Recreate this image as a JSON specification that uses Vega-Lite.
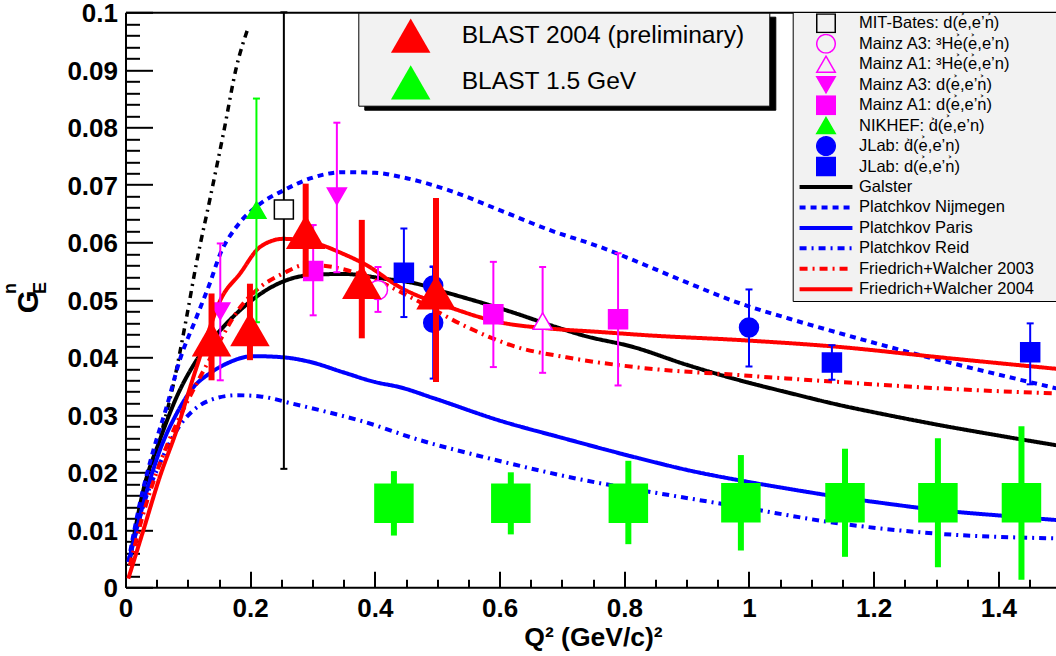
{
"$schema":"https://vega.github.io/schema/vega-lite/v6.json",
"width":930.5,"height":575,
"autosize":{"type":"none"},
"padding":{"left":125.5,"top":12.3,"right":0,"bottom":68.7},
"background":"white",
"config":{"view":{"stroke":null},"font":"Liberation Sans",
 "axis":{"grid":false,"domainColor":"black","tickColor":"black","labelColor":"black","titleColor":"black","labelFont":"Liberation Sans","titleFont":"Liberation Sans"},
 "legend":{"labelFont":"Liberation Sans","labelColor":"black","titleFont":"Liberation Sans"}},
"datasets":{
"curves":[
{"s":"Galster","q":0.0072,"g":0.005},{"s":"Galster","q":0.0286,"g":0.0169},{"s":"Galster","q":0.055,"g":0.0256},{"s":"Galster","q":0.082,"g":0.0331},{"s":"Galster","q":0.114,"g":0.0395},{"s":"Galster","q":0.152,"g":0.0447},{"s":"Galster","q":0.189,"g":0.0487},{"s":"Galster","q":0.226,"g":0.0517},{"s":"Galster","q":0.258,"g":0.0534},{"s":"Galster","q":0.296,"g":0.0543},{"s":"Galster","q":0.349,"g":0.0545},{"s":"Galster","q":0.413,"g":0.0537},{"s":"Galster","q":0.467,"g":0.0528},{"s":"Galster","q":0.52,"g":0.0511},{"s":"Galster","q":0.574,"g":0.0494},{"s":"Galster","q":0.627,"g":0.0476},{"s":"Galster","q":0.681,"g":0.0456},{"s":"Galster","q":0.734,"g":0.0438},{"s":"Galster","q":0.814,"g":0.0418},{"s":"Galster","q":0.9,"g":0.0387},{"s":"Galster","q":0.985,"g":0.036},{"s":"Galster","q":1.065,"g":0.0338},{"s":"Galster","q":1.145,"g":0.0317},{"s":"Galster","q":1.225,"g":0.0299},{"s":"Galster","q":1.306,"g":0.0282},{"s":"Galster","q":1.4,"g":0.0264},{"s":"Galster","q":1.493,"g":0.0247},
{"s":"Platchkov Nijmegen","q":0.0045,"g":0.0044},{"s":"Platchkov Nijmegen","q":0.023,"g":0.0146},{"s":"Platchkov Nijmegen","q":0.0446,"g":0.0238},{"s":"Platchkov Nijmegen","q":0.066,"g":0.0314},{"s":"Platchkov Nijmegen","q":0.087,"g":0.0395},{"s":"Platchkov Nijmegen","q":0.114,"g":0.047},{"s":"Platchkov Nijmegen","q":0.135,"g":0.0528},{"s":"Platchkov Nijmegen","q":0.152,"g":0.058},{"s":"Platchkov Nijmegen","q":0.178,"g":0.0627},{"s":"Platchkov Nijmegen","q":0.216,"g":0.0667},{"s":"Platchkov Nijmegen","q":0.253,"g":0.069},{"s":"Platchkov Nijmegen","q":0.296,"g":0.0711},{"s":"Platchkov Nijmegen","q":0.349,"g":0.0722},{"s":"Platchkov Nijmegen","q":0.4,"g":0.0721},{"s":"Platchkov Nijmegen","q":0.44,"g":0.0714},{"s":"Platchkov Nijmegen","q":0.52,"g":0.069},{"s":"Platchkov Nijmegen","q":0.6,"g":0.0656},{"s":"Platchkov Nijmegen","q":0.681,"g":0.0621},{"s":"Platchkov Nijmegen","q":0.761,"g":0.0592},{"s":"Platchkov Nijmegen","q":0.841,"g":0.0557},{"s":"Platchkov Nijmegen","q":0.905,"g":0.0528},{"s":"Platchkov Nijmegen","q":0.985,"g":0.0494},{"s":"Platchkov Nijmegen","q":1.065,"g":0.0467},{"s":"Platchkov Nijmegen","q":1.145,"g":0.0442},{"s":"Platchkov Nijmegen","q":1.225,"g":0.0418},{"s":"Platchkov Nijmegen","q":1.306,"g":0.0395},{"s":"Platchkov Nijmegen","q":1.4,"g":0.037},{"s":"Platchkov Nijmegen","q":1.493,"g":0.0346},
{"s":"Platchkov Paris","q":0.0072,"g":0.0053},{"s":"Platchkov Paris","q":0.0286,"g":0.0146},{"s":"Platchkov Paris","q":0.055,"g":0.0238},{"s":"Platchkov Paris","q":0.082,"g":0.0302},{"s":"Platchkov Paris","q":0.109,"g":0.0348},{"s":"Platchkov Paris","q":0.135,"g":0.0372},{"s":"Platchkov Paris","q":0.162,"g":0.0389},{"s":"Platchkov Paris","q":0.205,"g":0.0402},{"s":"Platchkov Paris","q":0.253,"g":0.04},{"s":"Platchkov Paris","q":0.296,"g":0.0392},{"s":"Platchkov Paris","q":0.349,"g":0.0374},{"s":"Platchkov Paris","q":0.4,"g":0.0357},{"s":"Platchkov Paris","q":0.44,"g":0.0348},{"s":"Platchkov Paris","q":0.494,"g":0.0329},{"s":"Platchkov Paris","q":0.6,"g":0.029},{"s":"Platchkov Paris","q":0.7,"g":0.026},{"s":"Platchkov Paris","q":0.825,"g":0.0224},{"s":"Platchkov Paris","q":0.905,"g":0.0203},{"s":"Platchkov Paris","q":0.985,"g":0.0186},{"s":"Platchkov Paris","q":1.065,"g":0.0171},{"s":"Platchkov Paris","q":1.145,"g":0.0157},{"s":"Platchkov Paris","q":1.225,"g":0.0145},{"s":"Platchkov Paris","q":1.306,"g":0.0134},{"s":"Platchkov Paris","q":1.4,"g":0.0125},{"s":"Platchkov Paris","q":1.493,"g":0.0117},
{"s":"Platchkov Reid","q":0.0072,"g":0.0053},{"s":"Platchkov Reid","q":0.028,"g":0.014},{"s":"Platchkov Reid","q":0.055,"g":0.0215},{"s":"Platchkov Reid","q":0.082,"g":0.0273},{"s":"Platchkov Reid","q":0.109,"g":0.0308},{"s":"Platchkov Reid","q":0.135,"g":0.0325},{"s":"Platchkov Reid","q":0.178,"g":0.0334},{"s":"Platchkov Reid","q":0.216,"g":0.0332},{"s":"Platchkov Reid","q":0.269,"g":0.0319},{"s":"Platchkov Reid","q":0.323,"g":0.0305},{"s":"Platchkov Reid","q":0.376,"g":0.029},{"s":"Platchkov Reid","q":0.472,"g":0.0256},{"s":"Platchkov Reid","q":0.584,"g":0.0224},{"s":"Platchkov Reid","q":0.766,"g":0.018},{"s":"Platchkov Reid","q":0.825,"g":0.0169},{"s":"Platchkov Reid","q":0.985,"g":0.014},{"s":"Platchkov Reid","q":1.145,"g":0.0111},{"s":"Platchkov Reid","q":1.306,"g":0.0093},{"s":"Platchkov Reid","q":1.493,"g":0.0085},
{"s":"Friedrich+Walcher 2003","q":0.007,"g":0.0038},{"s":"Friedrich+Walcher 2003","q":0.0286,"g":0.0128},{"s":"Friedrich+Walcher 2003","q":0.055,"g":0.0215},{"s":"Friedrich+Walcher 2003","q":0.082,"g":0.0285},{"s":"Friedrich+Walcher 2003","q":0.114,"g":0.0354},{"s":"Friedrich+Walcher 2003","q":0.146,"g":0.0418},{"s":"Friedrich+Walcher 2003","q":0.184,"g":0.0487},{"s":"Friedrich+Walcher 2003","q":0.216,"g":0.0522},{"s":"Friedrich+Walcher 2003","q":0.253,"g":0.0546},{"s":"Friedrich+Walcher 2003","q":0.29,"g":0.0561},{"s":"Friedrich+Walcher 2003","q":0.333,"g":0.0557},{"s":"Friedrich+Walcher 2003","q":0.38,"g":0.0543},{"s":"Friedrich+Walcher 2003","q":0.414,"g":0.0528},{"s":"Friedrich+Walcher 2003","q":0.467,"g":0.0499},{"s":"Friedrich+Walcher 2003","q":0.547,"g":0.0453},{"s":"Friedrich+Walcher 2003","q":0.627,"g":0.0418},{"s":"Friedrich+Walcher 2003","q":0.707,"g":0.04},{"s":"Friedrich+Walcher 2003","q":0.825,"g":0.0382},{"s":"Friedrich+Walcher 2003","q":0.985,"g":0.0369},{"s":"Friedrich+Walcher 2003","q":1.145,"g":0.0357},{"s":"Friedrich+Walcher 2003","q":1.306,"g":0.0346},{"s":"Friedrich+Walcher 2003","q":1.493,"g":0.0337},
{"s":"Friedrich+Walcher 2004","q":0.0045,"g":0.0015},{"s":"Friedrich+Walcher 2004","q":0.0286,"g":0.0099},{"s":"Friedrich+Walcher 2004","q":0.055,"g":0.0192},{"s":"Friedrich+Walcher 2004","q":0.082,"g":0.0273},{"s":"Friedrich+Walcher 2004","q":0.109,"g":0.0366},{"s":"Friedrich+Walcher 2004","q":0.13,"g":0.0435},{"s":"Friedrich+Walcher 2004","q":0.152,"g":0.0499},{"s":"Friedrich+Walcher 2004","q":0.184,"g":0.0546},{"s":"Friedrich+Walcher 2004","q":0.216,"g":0.0592},{"s":"Friedrich+Walcher 2004","q":0.253,"g":0.0606},{"s":"Friedrich+Walcher 2004","q":0.296,"g":0.0601},{"s":"Friedrich+Walcher 2004","q":0.349,"g":0.058},{"s":"Friedrich+Walcher 2004","q":0.387,"g":0.056},{"s":"Friedrich+Walcher 2004","q":0.44,"g":0.0522},{"s":"Friedrich+Walcher 2004","q":0.52,"g":0.0487},{"s":"Friedrich+Walcher 2004","q":0.6,"g":0.0461},{"s":"Friedrich+Walcher 2004","q":0.681,"g":0.045},{"s":"Friedrich+Walcher 2004","q":0.761,"g":0.0444},{"s":"Friedrich+Walcher 2004","q":0.841,"g":0.0438},{"s":"Friedrich+Walcher 2004","q":0.985,"g":0.043},{"s":"Friedrich+Walcher 2004","q":1.145,"g":0.0418},{"s":"Friedrich+Walcher 2004","q":1.306,"g":0.04},{"s":"Friedrich+Walcher 2004","q":1.493,"g":0.038}
],
"dd":[{"s":"dash-dot","q":0.007,"g":0.0053},{"s":"dash-dot","q":0.0286,"g":0.0151},{"s":"dash-dot","q":0.05,"g":0.0238},{"s":"dash-dot","q":0.077,"g":0.0354},{"s":"dash-dot","q":0.098,"g":0.047},{"s":"dash-dot","q":0.114,"g":0.0565},{"s":"dash-dot","q":0.135,"g":0.0673},{"s":"dash-dot","q":0.157,"g":0.0789},{"s":"dash-dot","q":0.178,"g":0.0905},{"s":"dash-dot","q":0.197,"g":0.0974}],
"pts":[
{"s":"MIT","q":0.254,"g":0.0657,"lo":0.0206,"hi":0.1},
{"s":"A3He","q":0.405,"g":0.0517,"lo":0.0479,"hi":0.0557},
{"s":"A1He","q":0.669,"g":0.0463,"lo":0.0373,"hi":0.0557},
{"s":"A3d","q":0.152,"g":0.048,"lo":0.036,"hi":0.0598},
{"s":"A3d","q":0.339,"g":0.068,"lo":0.0548,"hi":0.0808},
{"s":"A1d","q":0.301,"g":0.055,"lo":0.0473,"hi":0.063},
{"s":"A1d","q":0.59,"g":0.0475,"lo":0.0383,"hi":0.0566},
{"s":"A1d","q":0.79,"g":0.0466,"lo":0.0351,"hi":0.0581},
{"s":"NIKHEF","q":0.21,"g":0.0656,"lo":0.0461,"hi":0.085},
{"s":"JLabC","q":0.4935,"g":0.0525,"lo":0.0493,"hi":0.0558},
{"s":"JLabC","q":0.4935,"g":0.046,"lo":0.0363,"hi":0.0557},
{"s":"JLabC","q":1.0,"g":0.0452,"lo":0.0384,"hi":0.0518},
{"s":"JLabS","q":0.4465,"g":0.0547,"lo":0.047,"hi":0.0624},
{"s":"JLabS","q":1.133,"g":0.0391,"lo":0.0361,"hi":0.0421},
{"s":"JLabS","q":1.451,"g":0.0409,"lo":0.0353,"hi":0.0459}
],
"blast":[
{"b":"BLAST 2004 (preliminary)","q":0.138,"g":0.0431,"lo":0.036,"hi":0.0511},
{"b":"BLAST 2004 (preliminary)","q":0.1996,"g":0.0449,"lo":0.0395,"hi":0.0528},
{"b":"BLAST 2004 (preliminary)","q":0.289,"g":0.0618,"lo":0.054,"hi":0.0702},
{"b":"BLAST 2004 (preliminary)","q":0.379,"g":0.0531,"lo":0.0433,"hi":0.0639},
{"b":"BLAST 2004 (preliminary)","q":0.498,"g":0.0513,"lo":0.0357,"hi":0.0677},
{"b":"BLAST 1.5 GeV","q":0.4305,"g":0.0146,"lo":0.009,"hi":0.0202},
{"b":"BLAST 1.5 GeV","q":0.618,"g":0.0146,"lo":0.0092,"hi":0.02},
{"b":"BLAST 1.5 GeV","q":0.8065,"g":0.0146,"lo":0.0075,"hi":0.022},
{"b":"BLAST 1.5 GeV","q":0.987,"g":0.0147,"lo":0.0064,"hi":0.023},
{"b":"BLAST 1.5 GeV","q":1.154,"g":0.0147,"lo":0.0053,"hi":0.0241},
{"b":"BLAST 1.5 GeV","q":1.303,"g":0.0147,"lo":0.0035,"hi":0.0259},
{"b":"BLAST 1.5 GeV","q":1.437,"g":0.0147,"lo":0.0013,"hi":0.028}
]},
"layer":[
 {"data":{"name":"dd"},"mark":{"type":"line","stroke":"black","strokeWidth":3.5,"strokeDash":[7,5,2,5],"interpolate":"monotone"},
  "encoding":{
   "x":{"field":"q","type":"quantitative","axis":{"orient":"top","domain":true,"domainWidth":2,"ticks":false,"labels":false,"grid":false,"title":"E","titleFontSize":18,"titleFontWeight":"bold","titleAngle":270,"titleX":-80.5,"titleY":275.2,"titleAlign":"center","titleBaseline":"alphabetic"}},
   "y":{"field":"g","type":"quantitative","axis":{"orient":"left","domain":false,"ticks":false,"labels":false,"grid":false,"title":"n","titleFontSize":18,"titleFontWeight":"bold","titleAngle":270,"titleX":-110.5,"titleY":275.7,"titleAlign":"center","titleBaseline":"alphabetic"}},
   "opacity":{"field":"s","type":"nominal","scale":{"domain":["BLAST 1.5 GeV","BLAST 2004 (preliminary)"],"range":[1,1]},
    "legend":{"orient":"none","legendX":238.8,"legendY":4.4,"title":null,"fillColor":"black","strokeColor":"black","padding":0,"clipHeight":46,"rowPadding":0.7,"symbolType":"square","symbolSize":1560,"symbolStrokeWidth":0,"symbolFillColor":"black","symbolOffset":32.4,"labelOffset":338.3,"labelFontSize":24.6,"labelExpr":"''"}},
   "fillOpacity":{"field":"s","type":"nominal","scale":{"domain":["Friedrich+Walcher 2004","Friedrich+Walcher 2003","Platchkov Reid","Platchkov Paris","Platchkov Nijmegen","Galster","JLabS","JLabC","NIKHEF","A1d","A3d","A1He","A3He","MIT"],"range":[1,1]},
    "legend":{"orient":"none","legendX":674.2,"legendY":4.7,"title":null,"fillColor":"black","strokeColor":"black","padding":1.3,"clipHeight":20,"rowPadding":0.46,"symbolType":"square","symbolSize":342,"symbolStrokeWidth":1.5,"symbolFillColor":"black","symbolStrokeColor":"black","symbolOffset":22,"labelOffset":228,"labelFontSize":16.5,"labelExpr":"''"}},
   "strokeOpacity":{"field":"s","type":"nominal","scale":{"domain":["BLAST 1.5 GeV"],"range":[1,1]},
    "legend":{"orient":"none","legendX":265.2,"legendY":47.1,"zindex":5,"title":null,"fillColor":"transparent","strokeColor":"transparent","padding":0,"clipHeight":46,"rowPadding":0,"symbolType":"square","symbolSize":1560,"symbolStrokeWidth":0,"symbolFillColor":"#00ff00","symbolStrokeColor":"#00ff00","symbolOffset":0,"labelOffset":0,"labelFontSize":24.6,"labelExpr":"''"}}}},
 {"data":{"name":"curves"},"mark":{"type":"line","strokeWidth":4,"interpolate":"monotone"},
  "encoding":{
   "x":{"field":"q","type":"quantitative","scale":{"domain":[0,1.4924],"nice":false,"zero":false},
    "axis":{"orient":"bottom","values":[0,0.05,0.1,0.15,0.2,0.25,0.3,0.35,0.4,0.45,0.5,0.55,0.6,0.65,0.7,0.75,0.8,0.85,0.9,0.95,1,1.05,1.1,1.15,1.2,1.25,1.3,1.35,1.4,1.45],
     "domainWidth":2,"tickWidth":2,
     "tickSize":{"condition":{"test":"round(datum.value*100) % 20 === 0","value":-16},"value":-8},
     "labelExpr":"round(datum.value*100) % 20 === 0 ? format(datum.value, '~g') : ''",
     "labelFontSize":26,"labelFontWeight":"bold","labelPadding":24.5,"labelOverlap":false,"labelFlush":false,"labelBound":false,
     "title":"Q\u00b2 (GeV/c)\u00b2","titleFontSize":26.5,"titleFontWeight":"bold","titleX":467.5,"titleY":58,"titleAlign":"center","titleBaseline":"alphabetic"}},
   "y":{"field":"g","type":"quantitative","scale":{"domain":[0,0.1],"nice":false,"zero":false},
    "axis":{"orient":"left","values":[0,0.002,0.004,0.006,0.008,0.01,0.012,0.014,0.016,0.018,0.02,0.022,0.024,0.026,0.028,0.03,0.032,0.034,0.036,0.038,0.04,0.042,0.044,0.046,0.048,0.05,0.052,0.054,0.056,0.058,0.06,0.062,0.064,0.066,0.068,0.07,0.072,0.074,0.076,0.078,0.08,0.082,0.084,0.086,0.088,0.09,0.092,0.094,0.096,0.098,0.1],
     "domainWidth":2,"tickWidth":2,
     "tickSize":{"condition":{"test":"round(datum.value*1000) % 10 === 0","value":-27},"value":-14},
     "labelExpr":"round(datum.value*1000) % 10 === 0 ? format(datum.value, '~g') : ''",
     "labelFontSize":26,"labelFontWeight":"bold","labelPadding":35,"labelOffset":1.5,"labelOverlap":false,"labelFlush":false,"labelBound":false,
     "title":"G","titleFontSize":29.5,"titleFontWeight":"bold","titleAngle":270,"titleX":-88.5,"titleY":289,"titleAlign":"center","titleBaseline":"alphabetic"}},
   "stroke":{"field":"s","type":"nominal",
    "scale":{"domain":["MIT","A3He","A1He","A3d","A1d","NIKHEF","JLabC","JLabS","Galster","Platchkov Nijmegen","Platchkov Paris","Platchkov Reid","Friedrich+Walcher 2003","Friedrich+Walcher 2004"],
     "range":["black","#ff00ff","#ff00ff","#ff00ff","#ff00ff","#00ff00","#0000ff","#0000ff","black","#0000ff","#0000ff","#0000ff","#ff0000","#ff0000"]},
    "legend":{"orient":"none","legendX":667.2,"legendY":-0.3,"title":"\u200b","titleOrient":"right","titleFontSize":10,"titlePadding":30,"fillColor":"#f2f2f2","strokeColor":"black","padding":1.3,"clipHeight":20,"rowPadding":0.46,"symbolSize":342,"symbolStrokeWidth":1.5,"symbolOffset":22,"labelOffset":23,"labelFontSize":16.5,"labelLimit":400,
     "labelExpr":"datum.value === 'MIT' ? 'MIT-Bates: d(e\u0350,e\u2019n\u0350)' : datum.value === 'A3He' ? 'Mainz A3: \u00b3He\u0350(e\u0350,e\u2019n)' : datum.value === 'A1He' ? 'Mainz A1: \u00b3He\u0350(e\u0350,e\u2019n)' : datum.value === 'A3d' ? 'Mainz A3: d(e\u0350,e\u2019n\u0350)' : datum.value === 'A1d' ? 'Mainz A1: d(e\u0350,e\u2019n\u0350)' : datum.value === 'NIKHEF' ? 'NIKHEF: d\u0350(e\u0350,e\u2019n)' : datum.value === 'JLabC' ? 'JLab: d\u0350(e\u0350,e\u2019n)' : datum.value === 'JLabS' ? 'JLab: d(e\u0350,e\u2019n\u0350)' : datum.label",
     "encode":{"symbols":{"update":{"opacity":{"value":1}}}}}},
   "strokeDash":{"field":"s","type":"nominal",
    "scale":{"domain":["MIT","A3He","A1He","A3d","A1d","NIKHEF","JLabC","JLabS","Galster","Platchkov Nijmegen","Platchkov Paris","Platchkov Reid","Friedrich+Walcher 2003","Friedrich+Walcher 2004"],
     "range":[[1,0],[1,0],[1,0],[1,0],[1,0],[1,0],[1,0],[1,0],[1,0],[6,5],[1,0],[7,5,2,5],[8,5,2,5],[1,0]]}}
  }},
 {"data":{"name":"pts"},"mark":{"type":"rule","strokeWidth":2},
  "encoding":{"x":{"field":"q","type":"quantitative","axis":null},"y":{"field":"lo","type":"quantitative","axis":null},"y2":{"field":"hi"},"stroke":{"field":"s","type":"nominal"}}},
 {"data":{"name":"pts"},"mark":{"type":"point","shape":"stroke","size":49,"strokeWidth":2,"opacity":1},
  "encoding":{"x":{"field":"q","type":"quantitative","axis":null},"y":{"field":"lo","type":"quantitative","axis":null},"stroke":{"field":"s","type":"nominal"}}},
 {"data":{"name":"pts"},"mark":{"type":"point","shape":"stroke","size":49,"strokeWidth":2,"opacity":1},
  "encoding":{"x":{"field":"q","type":"quantitative","axis":null},"y":{"field":"hi","type":"quantitative","axis":null},"stroke":{"field":"s","type":"nominal"}}},
 {"data":{"name":"pts"},"transform":[{"filter":{"field":"s","oneOf":["MIT","A3He","A1He"]}}],
  "mark":{"type":"point","filled":true,"fill":"white","strokeWidth":0,"size":361,"opacity":1},
  "encoding":{"x":{"field":"q","type":"quantitative","axis":null},"y":{"field":"g","type":"quantitative","axis":null},"shape":{"field":"s","type":"nominal"}}},
 {"data":{"name":"pts"},"mark":{"type":"point","size":361,"strokeWidth":1.5,"opacity":1},
  "encoding":{"x":{"field":"q","type":"quantitative","axis":null},"y":{"field":"g","type":"quantitative","axis":null},
   "stroke":{"field":"s","type":"nominal"},
   "fill":{"field":"s","type":"nominal",
    "scale":{"domain":["MIT","A3He","A1He","A3d","A1d","NIKHEF","JLabC","JLabS","Galster","Platchkov Nijmegen","Platchkov Paris","Platchkov Reid","Friedrich+Walcher 2003","Friedrich+Walcher 2004"],
     "range":["transparent","transparent","transparent","#ff00ff","#ff00ff","#00ff00","#0000ff","#0000ff","transparent","transparent","transparent","transparent","transparent","transparent"]}},
   "shape":{"field":"s","type":"nominal",
    "scale":{"domain":["MIT","A3He","A1He","A3d","A1d","NIKHEF","JLabC","JLabS","Galster","Platchkov Nijmegen","Platchkov Paris","Platchkov Reid","Friedrich+Walcher 2003","Friedrich+Walcher 2004"],
     "range":["square","circle","triangle-up","triangle-down","square","triangle-up","circle","square","M-2.86,-0.134H2.86M-2.86,0H2.86M-2.86,0.134H2.86","M-2.86,-0.134H2.86M-2.86,0H2.86M-2.86,0.134H2.86","M-2.86,-0.134H2.86M-2.86,0H2.86M-2.86,0.134H2.86","M-2.86,-0.134H2.86M-2.86,0H2.86M-2.86,0.134H2.86","M-2.86,-0.134H2.86M-2.86,0H2.86M-2.86,0.134H2.86","M-2.86,-0.134H2.86M-2.86,0H2.86M-2.86,0.134H2.86"]}}
  }},
 {"data":{"name":"blast"},"transform":[{"filter":{"field":"b","equal":"BLAST 2004 (preliminary)"}}],"mark":{"type":"rule","strokeWidth":6,"color":"#ff0000"},
  "encoding":{"x":{"field":"q","type":"quantitative","axis":null},"y":{"field":"lo","type":"quantitative","axis":null},"y2":{"field":"hi"}}},
 {"data":{"name":"blast"},"transform":[{"filter":{"field":"b","equal":"BLAST 1.5 GeV"}}],"mark":{"type":"rule","strokeWidth":6,"color":"#00ff00"},
  "encoding":{"x":{"field":"q","type":"quantitative","axis":null},"y":{"field":"lo","type":"quantitative","axis":null},"y2":{"field":"hi"}}},
 {"data":{"name":"blast"},"transform":[{"filter":{"field":"b","equal":"BLAST 2004 (preliminary)"}}],
  "mark":{"type":"point","filled":true,"shape":"triangle-up","size":1560,"strokeWidth":0,"opacity":1},
  "encoding":{"x":{"field":"q","type":"quantitative","axis":null},"y":{"field":"g","type":"quantitative","axis":null},
   "color":{"field":"b","type":"nominal","scale":{"domain":["BLAST 2004 (preliminary)","BLAST 1.5 GeV"],"range":["#ff0000","#00ff00"]},
    "legend":{"orient":"none","legendX":232.8,"legendY":0.4,"zindex":1,"title":"\u200b","titleOrient":"right","titleFontSize":10,"titlePadding":24.3,"fillColor":"#f2f2f2","strokeColor":"black","padding":0,"clipHeight":46,"rowPadding":0.7,"symbolType":"triangle-up","symbolSize":1560,"symbolStrokeWidth":0,"symbolOffset":32.4,"labelOffset":31,"labelFontSize":24.6,"labelLimit":500,
     "encode":{"symbols":{"update":{"opacity":{"value":1}}}}}}}},
 {"data":{"name":"blast"},"transform":[{"filter":{"field":"b","equal":"BLAST 1.5 GeV"}}],
  "mark":{"type":"point","filled":true,"shape":"square","size":1560,"strokeWidth":0,"opacity":1},
  "encoding":{"x":{"field":"q","type":"quantitative","axis":null},"y":{"field":"g","type":"quantitative","axis":null},
   "color":{"field":"b","type":"nominal"}}}
],
"resolve":{"axis":{"x":"independent","y":"independent"}}
}
